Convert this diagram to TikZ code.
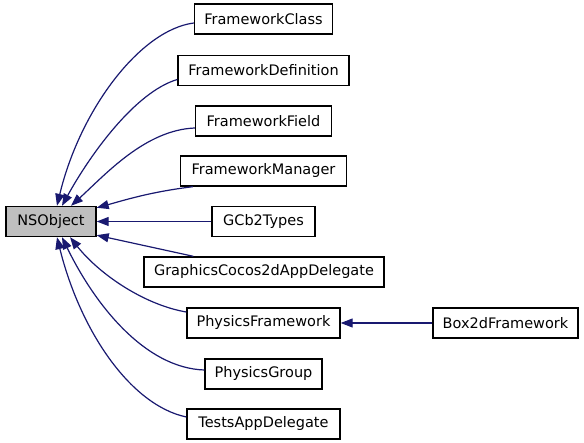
\documentclass[tikz,border=0pt]{standalone}
\usepackage{fontspec}
\setmainfont{DejaVu Sans}
\usepackage{tikz}
\usetikzlibrary{arrows.meta,positioning,calc}

\definecolor{edgeblue}{HTML}{191970}

\begin{document}
\begin{tikzpicture}[
  x=1pt, y=-1pt,
  font=\fontsize{14.5}{16}\selectfont,
  cls/.style={draw=black, line width=1.4pt, fill=white, inner sep=0pt, minimum height=30pt, align=center},
  root/.style={cls, fill=black!25},
  inh/.style={draw=edgeblue, line width=1.2pt, -{Triangle[length=12pt,width=9pt]}}
]
\useasboundingbox (0,0) rectangle (584,443);

% --- Base class --------------------------------------------------------------
\node[root, minimum width=90pt] (ns) at (51,221.5) {NSObject};

% --- Derived classes ---------------------------------------------------------
\node[cls, minimum width=138pt] (fc) at (263.5,19) {FrameworkClass};
\node[cls, minimum width=171pt] (fd) at (263.5,70.5) {FrameworkDefinition};
\node[cls, minimum width=136pt] (ff) at (263.5,121) {FrameworkField};
\node[cls, minimum width=166pt] (fm) at (263.5,171) {FrameworkManager};
\node[cls, minimum width=103pt] (gc) at (263.5,221.5) {GCb2Types};
\node[cls, minimum width=240pt] (gr) at (264,272) {GraphicsCocos2dAppDelegate};
\node[cls, minimum width=153pt] (pf) at (263.5,323) {PhysicsFramework};
\node[cls, minimum width=117pt] (pg) at (263.5,374) {PhysicsGroup};
\node[cls, minimum width=153pt] (ta) at (263.5,424) {TestsAppDelegate};
\node[cls, minimum width=145pt] (b2) at (505.5,323) {Box2dFramework};

% --- Inheritance edges (upper half) ------------------------------------------
\draw[inh] ([yshift=-4pt]fc.west) .. controls (140,30) and (80,110) .. ([xshift=6pt]ns.north);
\draw[inh] ([yshift=-9pt]fd.west) .. controls (135,92) and (90,155) .. ([xshift=11pt]ns.north);
\draw[inh] ([yshift=-7pt]ff.west) .. controls (145,130) and (105,175) .. ([xshift=20pt]ns.north);
\draw[inh] ([xshift=13pt]fm.south west) .. controls (150,192) and (125,200) .. ([yshift=-2pt]ns.north east);
\draw[inh] (gc.west) -- (ns.east);

% --- Inheritance edges (lower half) ------------------------------------------
\draw[inh] ([xshift=50pt]gr.north west) -- ([yshift=2pt]ns.south east);
\draw[inh] ([yshift=11pt]pf.west) .. controls (145,305) and (100,275) .. ([xshift=19pt]ns.south);
\draw[inh] ([yshift=4pt]pg.west) .. controls (145,368) and (95,305) .. ([xshift=11pt]ns.south);
\draw[inh] ([yshift=7pt]ta.west) .. controls (130,405) and (80,330) .. ([xshift=6pt]ns.south);

% --- Second level ------------------------------------------------------------
\draw[inh] (b2.west) -- (pf.east);

\end{tikzpicture}
\end{document}
